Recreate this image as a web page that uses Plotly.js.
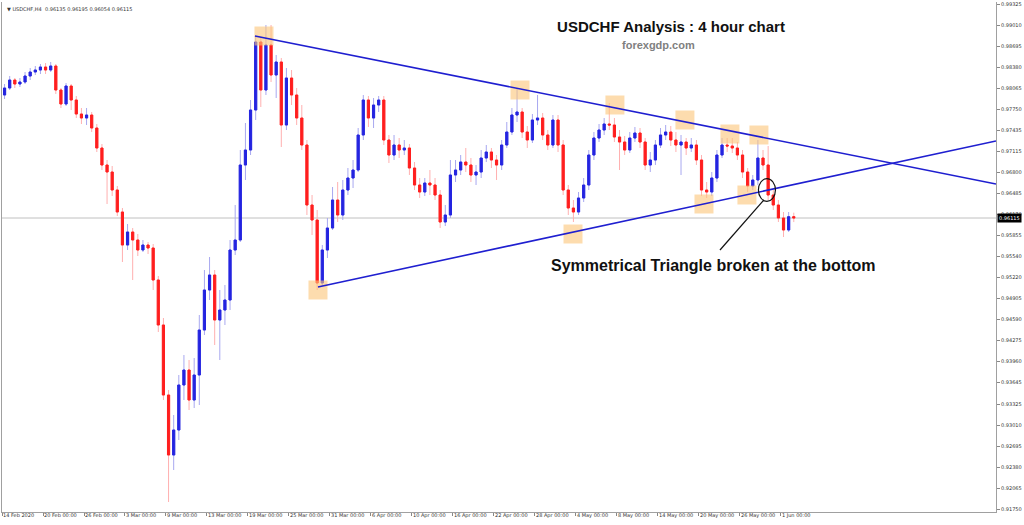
<!DOCTYPE html>
<html>
<head>
<meta charset="utf-8">
<script src="https://cdn.plot.ly/plotly-3.0.1.min.js"></script>
<style>html,body{margin:0;padding:0;background:#fff;}#chart{width:1024px;height:525px;}</style>
</head>
<body>
<div id="chart"></div>
<script>
// ---- data (12-hour sessions) ----
const symbolName = "USDCHF,H4";
const tickDays = [0,4,8,12,16,20,24,28,32,36,40,44,48,52,56,60,64,68,72,76];
const tickLabels = ["14 Feb 2020","20 Feb 00:00","26 Feb 00:00","3 Mar 00:00","9 Mar 00:00","13 Mar 00:00","19 Mar 00:00","25 Mar 00:00","31 Mar 00:00","6 Apr 00:00","10 Apr 00:00","16 Apr 00:00","22 Apr 00:00","28 Apr 00:00","4 May 00:00","8 May 00:00","14 May 00:00","20 May 00:00","26 May 00:00","1 Jun 00:00"];
const priceTicks = [0.99325,0.99010,0.98695,0.98380,0.98065,0.97750,0.97435,0.97115,0.96800,0.96485,0.96170,0.95855,0.95540,0.95220,0.94905,0.94590,0.94275,0.93960,0.93645,0.93325,0.93010,0.92695,0.92380,0.92065,0.91750];

const openPrices = [0.97960,
0.98065,0.98185,0.98125,0.98155,0.98245,0.98305,0.98335,0.98380,0.98335,0.98395,
0.98035,0.97825,0.98095,0.97885,0.97675,0.97615,0.97660,0.97465,0.97165,0.96910,
0.96805,0.96535,0.96205,0.95710,0.95905,0.95785,0.95635,0.95710,0.95665,0.95185,
0.94510,0.93460,0.92560,0.92935,0.93610,0.93835,0.93385,0.93760,0.94435,0.95035,
0.95260,0.94585,0.94735,0.94885,0.95635,0.95785,0.96910,0.97135,0.97735,0.98755,
0.98035,0.98710,0.98260,0.98455,0.97510,0.98215,0.97960,0.97615,0.97210,0.96310,
0.96085,0.95140,0.95635,0.95965,0.96385,0.96160,0.96535,0.96715,0.96835,0.97360,
0.97885,0.97615,0.97810,0.97885,0.97285,0.97060,0.97210,0.97135,0.97165,0.96865,
0.96610,0.96505,0.96640,0.96610,0.96460,0.96055,0.96160,0.96760,0.96835,0.96955,
0.96910,0.96760,0.96805,0.97015,0.97105,0.96985,0.96910,0.97210,0.97405,0.97660,
0.97705,0.97405,0.97285,0.97585,0.97615,0.97360,0.97210,0.97585,0.97210,0.96535,
0.96265,0.96205,0.96415,0.96610,0.97060,0.97315,0.97435,0.97525,0.97510,0.97330,
0.97255,0.97135,0.97315,0.97390,0.97255,0.96910,0.96985,0.97210,0.97360,0.97405,
0.97285,0.97210,0.97255,0.97165,0.97210,0.96985,0.96535,0.96505,0.96715,0.97060,
0.97210,0.97195,0.97165,0.97060,0.96805,0.96595,0.96685,0.97015,0.96910,0.96460,
0.96310,0.96115,0.95935,0.96135];

const closePrices = [
0.98065,0.98185,0.98125,0.98155,0.98245,0.98305,0.98335,0.98380,0.98335,0.98395,
0.98035,0.97825,0.98095,0.97885,0.97675,0.97615,0.97660,0.97465,0.97165,0.96910,
0.96805,0.96535,0.96205,0.95710,0.95905,0.95785,0.95635,0.95710,0.95665,0.95185,
0.94510,0.93460,0.92560,0.92935,0.93610,0.93835,0.93385,0.93760,0.94435,0.95035,
0.95260,0.94585,0.94735,0.94885,0.95635,0.95785,0.96910,0.97135,0.97735,0.98755,
0.98035,0.98710,0.98260,0.98455,0.97510,0.98215,0.97960,0.97615,0.97210,0.96310,
0.96085,0.95140,0.95635,0.95965,0.96385,0.96160,0.96535,0.96715,0.96835,0.97360,
0.97885,0.97615,0.97810,0.97885,0.97285,0.97060,0.97210,0.97135,0.97165,0.96865,
0.96610,0.96505,0.96640,0.96610,0.96460,0.96055,0.96160,0.96760,0.96835,0.96955,
0.96910,0.96760,0.96805,0.97015,0.97105,0.96985,0.96910,0.97210,0.97405,0.97660,
0.97705,0.97405,0.97285,0.97585,0.97615,0.97360,0.97210,0.97585,0.97210,0.96535,
0.96265,0.96205,0.96415,0.96610,0.97060,0.97315,0.97435,0.97525,0.97510,0.97330,
0.97255,0.97135,0.97315,0.97390,0.97255,0.96910,0.96985,0.97210,0.97360,0.97405,
0.97285,0.97210,0.97255,0.97165,0.97210,0.96985,0.96535,0.96505,0.96715,0.97060,
0.97210,0.97195,0.97165,0.97060,0.96805,0.96595,0.96685,0.97015,0.96910,0.96460,
0.96310,0.96115,0.95935,0.96135,0.96115];

const highPrices = [
0.98125,0.98245,0.98215,0.98215,0.98305,0.98365,0.98395,0.98425,0.98440,0.98455,
0.98425,0.98065,0.98140,0.98125,0.97945,0.97765,0.97765,0.97705,0.97525,0.97225,
0.96985,0.96895,0.96595,0.96265,0.96025,0.95965,0.95875,0.95785,0.95755,0.95725,
0.95245,0.94615,0.93535,0.93160,0.93760,0.94060,0.93985,0.94015,0.94660,0.95335,
0.95530,0.95335,0.95035,0.95110,0.95785,0.96310,0.97135,0.97540,0.97885,0.98845,
0.98815,0.99010,0.99010,0.98560,0.98515,0.98365,0.98335,0.98065,0.97810,0.97285,
0.96460,0.96235,0.95710,0.96115,0.96580,0.96655,0.96685,0.96865,0.96985,0.97465,
0.97960,0.97945,0.97915,0.97945,0.97945,0.97360,0.97360,0.97315,0.97285,0.97225,
0.96955,0.96715,0.96715,0.96835,0.96715,0.96535,0.96310,0.96985,0.96985,0.97060,
0.97165,0.97015,0.96910,0.97135,0.97210,0.97165,0.97060,0.97285,0.97555,0.97765,
0.98065,0.97765,0.97495,0.97675,0.97960,0.97690,0.97435,0.97660,0.97660,0.97285,
0.96610,0.96385,0.96505,0.96715,0.97135,0.97405,0.97525,0.97615,0.97840,0.97615,
0.97435,0.97345,0.97405,0.97480,0.97465,0.97315,0.97105,0.97285,0.97465,0.97510,
0.97495,0.97405,0.97360,0.97315,0.97315,0.97285,0.97060,0.96655,0.96805,0.97135,
0.97315,0.97315,0.97315,0.97255,0.97135,0.96865,0.96760,0.97285,0.97135,0.97195,
0.96535,0.96385,0.96205,0.96205,0.96195];

const lowPrices = [
0.97900,0.98035,0.98065,0.98080,0.98125,0.98185,0.98260,0.98275,0.98275,0.98305,
0.97975,0.97765,0.97795,0.97735,0.97615,0.97525,0.97510,0.97405,0.97105,0.96835,
0.96325,0.96445,0.96145,0.95455,0.95635,0.95185,0.95545,0.95605,0.95575,0.95035,
0.94405,0.93385,0.91855,0.92335,0.92785,0.93385,0.93235,0.93265,0.93310,0.94360,
0.94885,0.94210,0.93985,0.94510,0.94735,0.95560,0.95755,0.96685,0.97060,0.97585,
0.97780,0.97960,0.98155,0.97915,0.97180,0.97435,0.97810,0.97510,0.97135,0.96160,
0.95860,0.95035,0.95095,0.95515,0.95935,0.96055,0.96085,0.96460,0.96565,0.96805,
0.97285,0.97480,0.97465,0.97705,0.97210,0.96940,0.96985,0.97015,0.97060,0.96760,
0.96535,0.96415,0.96445,0.96460,0.96385,0.95965,0.95995,0.96115,0.96655,0.96760,
0.96805,0.96655,0.96610,0.96715,0.96955,0.96865,0.96685,0.96835,0.97165,0.97360,
0.97555,0.97315,0.97165,0.97240,0.97510,0.97285,0.97135,0.97165,0.97105,0.96460,
0.96160,0.96055,0.96160,0.96355,0.96535,0.96985,0.97255,0.97360,0.97435,0.97255,
0.96835,0.97060,0.97090,0.97255,0.97165,0.96835,0.96805,0.96910,0.97165,0.97285,
0.97195,0.97105,0.96760,0.97060,0.97105,0.96910,0.96445,0.96415,0.96445,0.96655,
0.97015,0.97105,0.97090,0.96985,0.96715,0.96505,0.96535,0.96610,0.96835,0.96385,
0.96235,0.96055,0.95830,0.95905,0.96054];

// trend lines (trading-day index, price)
const upperLineDays = [24.68, 96.98];
const upperLinePrices = [0.98845, 0.96625];
const lowerLineDays = [30.83, 96.98];
const lowerLinePrices = [0.95080, 0.97270];
// highlighted swing points
const swingDays = [25.56, 30.83, 50.54, 55.71, 59.80, 66.63, 68.49, 71.02, 72.68, 73.85];
const swingPrices = [0.98845, 0.95035, 0.98035, 0.95875, 0.97810, 0.97585, 0.96325, 0.97375, 0.96460, 0.97360];
// breakout marker and callout
const breakDay = 74.63, breakPrice = 0.96535;
const calloutDays = [70.05, 74.34];
const calloutPrices = [0.95635, 0.96385];
const calloutLabelDay = 69.46, calloutLabelPrice = 0.95410;
const calloutText = "Symmetrical Triangle broken at the bottom";

// ---- build ----
const n = closePrices.length;
const xs = closePrices.map((_, i) => 0.25 + 0.5 * i);
const bodyHigh = openPrices.map((o, i) => Math.max(o, closePrices[i]));
const bodyLow = openPrices.map((o, i) => Math.min(o, closePrices[i]));
const lastOpen = openPrices[n-1], lastHigh = highPrices[n-1], lastLow = lowPrices[n-1], lastClose = closePrices[n-1];

const BLUE = '#2424e0', RED = '#ff1e1e';
const traces = [
  {type:'scatter', mode:'markers', x:swingDays, y:swingPrices, hoverinfo:'skip',
   marker:{symbol:'square', size:19, color:'rgba(252,196,120,0.6)', line:{width:0}}},
  {type:'candlestick', x:xs, open:openPrices, high:highPrices, low:lowPrices, close:closePrices,
   increasing:{line:{color:'#a8a8f0', width:1}, fillcolor:'#a8a8f0'},
   decreasing:{line:{color:'#ffb0b0', width:1}, fillcolor:'#ffb0b0'}, whiskerwidth:0, hoverinfo:'skip'},
  {type:'candlestick', x:xs, open:openPrices, high:bodyHigh, low:bodyLow, close:closePrices,
   increasing:{line:{color:BLUE, width:1}, fillcolor:BLUE},
   decreasing:{line:{color:RED, width:1}, fillcolor:RED}, whiskerwidth:0, hoverinfo:'skip'},
  {type:'scatter', mode:'lines', x:upperLineDays, y:upperLinePrices, line:{color:'#1f1fd0', width:1.6}, hoverinfo:'skip'},
  {type:'scatter', mode:'lines', x:lowerLineDays, y:lowerLinePrices, line:{color:'#1f1fd0', width:1.6}, hoverinfo:'skip'},
  {type:'scatter', mode:'lines', x:calloutDays, y:calloutPrices, line:{color:'#111', width:1.2}, hoverinfo:'skip'}
];

const tickFont = {family:'DejaVu Sans', size:5, color:'#333'};
const layout = {
  width:1024, height:525,
  margin:{l:2, r:28, t:2, b:13},
  paper_bgcolor:'#fff', plot_bgcolor:'#fff',
  showlegend:false,
  boxgap:0.4,
  title:{text:'<b>USDCHF Analysis : 4 hour chart</b>', xref:'container', yref:'container',
         x:671/1024, y:1-27/525, xanchor:'center', yanchor:'middle',
         font:{family:'Liberation Sans', size:15, color:'#111'}},
  xaxis:{range:[0, 96.98], tickvals:tickDays, ticktext:tickLabels, ticks:'outside', ticklen:3,
         tickcolor:'#888', tickangle:0, ticklabelposition:'outside right', ticklabelstandoff:-2, tickfont:tickFont,
         showgrid:false, zeroline:false, showline:true, linecolor:'#a0a0a0', linewidth:1,
         rangeslider:{visible:false}, fixedrange:true, automargin:false},
  yaxis:{side:'right', range:[0.91705, 0.99355], tickvals:priceTicks, ticktext:priceTicks.map(v => v.toFixed(5)),
         ticks:'outside', ticklen:3, tickcolor:'#888', tickfont:tickFont,
         showgrid:false, zeroline:false, showline:true, mirror:true, linecolor:'#a0a0a0', linewidth:1,
         fixedrange:true, automargin:false},
  shapes:[
    {type:'line', xref:'paper', x0:0, x1:1, yref:'y', y0:lastClose, y1:lastClose, line:{color:'#c0c0c0', width:1}, layer:'below'},
    {type:'circle', xref:'x', yref:'y', x0:breakDay-0.83, x1:breakDay+0.83, y0:breakPrice-0.0017, y1:breakPrice+0.0017,
     line:{color:'#111', width:1.2}}
  ],
  annotations:[
    {xref:'paper', yref:'paper', x:0, y:1, xanchor:'left', yanchor:'top', xshift:3, yshift:-2, showarrow:false,
     text:'\u25BC ' + symbolName + '  ' + [lastOpen,lastHigh,lastLow,lastClose].map(v=>v.toFixed(5)).join(' '),
     font:{family:'DejaVu Sans', size:5, color:'#333'}},
    {xref:'paper', yref:'paper', x:656/994, y:1-43/510, xanchor:'center', yanchor:'middle', showarrow:false,
     text:'<b>forexgdp.com</b>', font:{family:'Liberation Sans', size:11, color:'#808080'}},
    {xref:'x', yref:'y', x:calloutLabelDay, y:calloutLabelPrice, xanchor:'center', yanchor:'middle', showarrow:false,
     text:'<b>' + calloutText + '</b>', font:{family:'Liberation Sans', size:16, color:'#111'}},
    {xref:'paper', yref:'y', x:1, y:lastClose, xanchor:'left', yanchor:'middle', xshift:1, showarrow:false,
     text:lastClose.toFixed(5), bgcolor:'#000', borderpad:1, font:{family:'DejaVu Sans', size:5, color:'#fff'}}
  ]
};

Plotly.newPlot('chart', traces, layout, {staticPlot:true, displayModeBar:false});
</script>
</body>
</html>
